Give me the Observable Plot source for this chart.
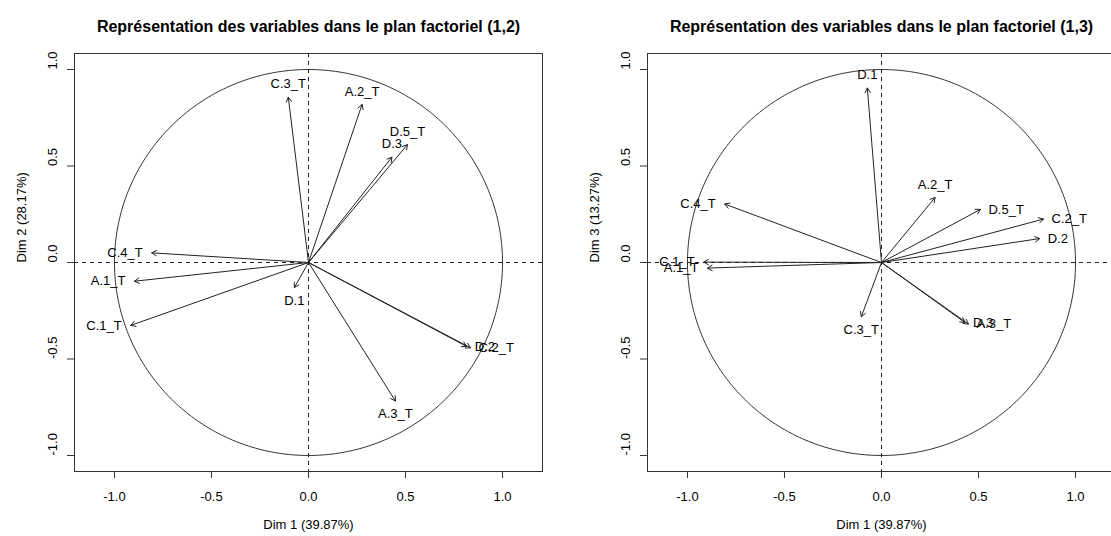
<!DOCTYPE html>
<html><head><meta charset="utf-8">
<script src="https://cdn.jsdelivr.net/npm/d3@7"></script>
<script src="https://cdn.jsdelivr.net/npm/@observablehq/plot@0.6"></script>
<style>
body{margin:0;background:#fff;}
#wrap{width:1111px;height:536px;overflow:hidden;display:flex;background:#fff;}
#wrap svg{flex:none;}
</style></head><body><div id="wrap"></div>
<script>
const variables = ["A.1_T","A.2_T","A.3_T","C.1_T","C.2_T","C.3_T","C.4_T","D.1","D.2","D.3","D.5_T"];
const dim1 = [-0.897, 0.276, 0.448, -0.916, 0.835, -0.104, -0.808, -0.073, 0.815, 0.430, 0.510];
const dim2 = [-0.097, 0.819, -0.718, -0.326, -0.442, 0.856, 0.050, -0.130, -0.435, 0.546, 0.611];
const dim3 = [-0.029, 0.337, -0.319, 0.002, 0.225, -0.281, 0.303, 0.904, 0.124, -0.311, 0.275];
const axisTicks = [-1, -0.5, 0, 0.5, 1];
const tickLabels = ["-1.0", "-0.5", "0.0", "0.5", "1.0"];
const titles = ["Représentation des variables dans le plan factoriel (1,2)",
                "Représentation des variables dans le plan factoriel (1,3)"];
const xLabel = "Dim 1 (39.87%)";
const yLabels = ["Dim 2 (28.17%)", "Dim 3 (13.27%)"];

const FONT = "'Liberation Sans', Arial, Helvetica, sans-serif";

function panel(ys, title, yLabel) {
  const data = variables.map((v, i) => ({name: v, x: dim1[i], y: ys[i]}));
  const pos = d => Math.abs(d.x) > Math.abs(d.y) ? (d.x > 0 ? 4 : 2) : (d.y > 0 ? 3 : 1);
  const circle = d3.range(0, 361).map(a => ({cx: Math.cos(a * Math.PI / 180), cy: Math.sin(a * Math.PI / 180)}));
  const yt = axisTicks.map((t, i) => ({t, label: tickLabels[i]}));
  const fmt = d => tickLabels[axisTicks.indexOf(d)];
  const lab = {fill: "#000", fontSize: 13};
  return Plot.plot({
    width: 573, height: 536,
    marginLeft: 74, marginRight: 31, marginTop: 53, marginBottom: 65,
    x: {domain: [-1.206, 1.206]},
    y: {domain: [-1.083, 1.083]},
    style: {fontFamily: FONT, fontSize: "13px", color: "#000", background: "#fff", overflow: "visible"},
    marks: [
      Plot.ruleX([0], {x: d => d, stroke: "#222", strokeDasharray: "4,4"}),
      Plot.ruleY([0], {y: d => d, stroke: "#222", strokeDasharray: "4,4"}),
      Plot.line(circle, {x: "cx", y: "cy", stroke: "#333", strokeWidth: 1}),
      Plot.arrow(data, {x1: d => 0, y1: d => 0, x2: "x", y2: "y", stroke: "#222", strokeWidth: 1, headLength: 8}),
      Plot.text(data.filter(d => pos(d) === 3), {x: "x", y: "y", text: "name", dy: -13, textAnchor: "middle", ...lab}),
      Plot.text(data.filter(d => pos(d) === 1), {x: "x", y: "y", text: "name", dy: 13, textAnchor: "middle", ...lab}),
      Plot.text(data.filter(d => pos(d) === 2), {x: "x", y: "y", text: "name", dx: -9, textAnchor: "end", ...lab}),
      Plot.text(data.filter(d => pos(d) === 4), {x: "x", y: "y", text: "name", dx: 8, textAnchor: "start", ...lab}),
      Plot.frame({stroke: "#333"}),
      Plot.axisX({ticks: axisTicks, tickSize: 7, tickPadding: 13, tickFormat: fmt, label: null, stroke: "#333", fill: "#000", fontSize: 13}),
      Plot.axisY({ticks: axisTicks, tickSize: 7, tickFormat: () => "", label: null, stroke: "#333"}),
      Plot.text(yt, {y: "t", text: "label", frameAnchor: "left", dx: -22, rotate: -90, fill: "#000", fontSize: 13}),
      Plot.text([xLabel], {text: d => d, frameAnchor: "bottom", dy: 57, fill: "#000", fontSize: 13}),
      Plot.text([yLabel], {text: d => d, frameAnchor: "left", dx: -53, rotate: -90, fill: "#000", fontSize: 13}),
      Plot.text([title], {text: d => d, frameAnchor: "top", dy: -33, fontWeight: "bold", fontSize: 16, fill: "#000"})
    ]
  });
}

const wrap = document.getElementById("wrap");
wrap.appendChild(panel(dim2, titles[0], yLabels[0]));
wrap.appendChild(panel(dim3, titles[1], yLabels[1]));
</script>
</body></html>
